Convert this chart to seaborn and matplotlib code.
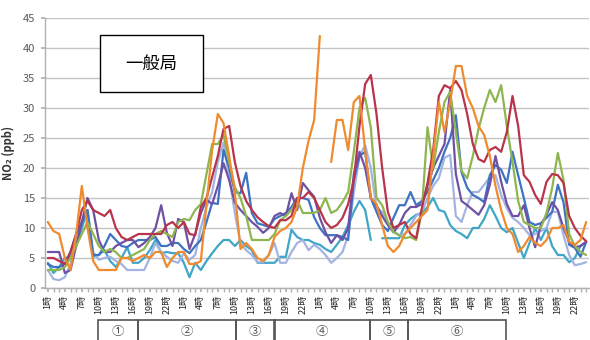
import numpy as np
import pandas as pd
import matplotlib
matplotlib.use("Agg")
import matplotlib.pyplot as plt
from matplotlib.patches import Rectangle
from matplotlib.ticker import MultipleLocator
import seaborn as sns

nan = np.nan

# hourly x-axis: 4 days x 24 h (1時..24時)
hours = [h for d in range(4) for h in range(1, 25)]
tick_labels = [f"{h}時" for d in range(4) for h in range(1, 25, 3)]

orange = [11, 9.5, 9, 5, 3, 9, 17, 10, 4.5, 3, 3, 3, 3, 5, 5, 4.5, 5, 5.5, 5, 6, 6, 3.5, 5, 6,
          6, 4, 4, 4.5, 14, 23, 29, 27.5, 22, 16, 6.5, 7.5, 6.5, 5, 4.5, 5.5, 8.5, 9.5, 10, 11, 13.5, 20, 24.5, 28,
          42, nan, 21, 28, 28, 23, 31, 32, 23, 15, 14, 10.5, 7, 6, 7, 9, 10, 11, 12, 13, 22, 31, 26, 31,
          37, 37, 32, 30, 27, 25.5, 22, 17, 13, 10, 9, 6, 7, 8.5, 7.5, 7, 8, 10, 10, 10.5, 7.7, 7.2, 8, 11]
red = [5, 5, 4.5, 4, 6, 9, 13, 14.5, 13, 12.5, 12, 13, 10, 8.5, 8, 8.5, 9, 9, 9, 9, 9, 10.5, 11, 10,
       11, 9, 8.8, 13.5, 15, 18.5, 22, 26.5, 27, 21, 17, 14.5, 13, 11.8, 11, 10.3, 10, 11.3, 11.3, 12, 15, 15, 16, 15,
       13, 11, 10, 10.5, 11.7, 14, 18, 27, 34, 35.5, 29, 20, 12.7, 10, 10.5, 11, 9, 8.3, 13.3, 17.5, 23, 32,
       33.8, 33.3, 34.5, 33, 29, 24, 21.5, 21, 23, 23.5, 22.7, 26, 32, 27, 18.8, 17.7, 15.5, 14, 17.7, 19, 18.8, 17.5,
       12, 10, 8.7, 7.8]
green = [3, 3, 3, 3.5, 5, 7, 9, 11, 9, 7, 6, 6.5, 6, 5, 5, 5.5, 6, 6.5, 8, 9, 9.5, 9, 8.5, 11,
         11.5, 11.3, 13, 14, 19, 24, 24, 25.5, 21, 16.8, 15, 12, 8, 8, 8, 8, 9, 11.3, 12, 13, 14.7, 12.5, 12.5, 12.5,
         13, 15, 12.5, 13, 14.3, 16, 22.7, 30, 31.7, 26.7, 15, 13.8, 11, 9.3, 8.8, 8.3, 8.5, 8, 12.7, 26.8, 20, 26,
         31, 32.7, 26, 19.5, 18.3, 22, 26.5, 30, 33, 31, 33.8, 27, 21, 14.5, 11, 10.5, 10, 10, 12.5, 16.7, 22.5, 18,
         9, 7, 6, 5.5]
purple = [6, 6, 6, 2.5, 3, 7, 11, 15, 13, 8, 6, 6, 7, 7.5, 8, 8, 6.8, 7.5, 8.5, 10, 13.8, 9.2, 7, 11.5,
          11, 6.5, 9, 12.5, 14.7, 14, 17, 20.8, 18, 14.2, 13, 12, 11, 10.2, 9.2, 10, 12, 12.5, 12, 15.8, 13, 17.5, 16.3, 15.2,
          11.7, 9.3, 7.5, 8.8, 8, 10, 19, 22.7, 20, 15, 13.8, 12, 10.5, 9.3, 10.5, 12.5, 13.5, 13.5, 14, 17, 20, 22,
          24, 33, 19, 14.5, 13.8, 13, 12.2, 13.8, 17.2, 22, 17.7, 14, 12, 12, 13.8, 10, 6.8, 10.5, 12.2, 14.3, 13, 10,
          7.7, 6.8, 7, 7.7]
blue = [4, 3.5, 3.5, 4, 6, 9, 11, 13, 5.5, 5.5, 7, 9, 8, 7, 6.8, 7.5, 8, 8, 8, 8.5, 7, 7, 7.5, 7.5,
        6.5, 5.8, 7, 8, 11, 14.2, 14, 23, 20, 16, 15.8, 19.2, 12.5, 10.8, 10.5, 10.2, 11.5, 12, 12.5, 13.5, 15, 15, 14.7, 11.8,
        10, 8.8, 8.8, 8.8, 8.5, 8, 18, 22, 22.7, 15, 12.7, 10.5, 9.5, 11.7, 13.8, 13.8, 16, 13.8, 14.5, 16, 18, 20,
        22.7, 25, 28.8, 19.3, 16.7, 15.5, 15, 14.3, 18.8, 20.5, 19.7, 17.5, 22.7, 18.8, 15, 11, 10.5, 10.8, 11.7, 12.7, 17.2, 14.3,
        7.2, 6.7, 5.2, 7.7]
lavender = [3, 1.5, 1.3, 1.8, 4, 8, 11, 13, 6, 4.7, 5, 5.2, 4.5, 4, 3, 3, 3, 3, 5, 7.5, 6, 5.2, 4.5, 4.2,
            5.8, 4.7, 5.5, 10, 13.5, 16, 21, 24.2, 18.5, 12.5, 7.5, 6.3, 5.5, 4.3, 4.3, 5.5, 7.5, 4.2, 4.2, 6, 7.5, 8, 6.3, 7.2,
            6.5, 5.5, 4.2, 5, 6, 8.8, 16, 22, 23.8, 20, 13.3, 12.7, 11, 9.5, 8.8, 9, 10.5, 12, 12.7, 15, 17, 18.3,
            21.7, 22.2, 12, 11, 13.8, 16, 16, 17.2, 18.5, 18.8, 15.5, 13.3, 11.7, 11, 10, 8.8, 9, 9.5, 10, 12.7, 12.7, 8.8,
            5.5, 3.8, 4, 4.3]
teal = [4.2, 2.5, 3.5, 5, 5.2, 7, 10, 13, 5.2, 5.5, 6.3, 4.5, 3.5, 5, 6.8, 4.2, 4.2, 5, 6.3, 8, 5.8, 6, 5.8, 5.8,
        4.2, 1.8, 4.2, 3, 4.5, 5.8, 7, 8, 8, 7, 8, 7, 6.3, 4.2, 4.2, 4.2, 4.2, 5.2, 5.2, 9.7, 8.5, 8, 8, 7.5,
        7.2, 6.5, 6, 7.2, 8.5, 10.5, 12.7, 14.5, 13, 8, nan, 8.3, 8.3, 8.3, 8.3, 10.5, 11.5, 12.2, 12.5, 13.5, 15, 13,
        12.7, 10.5, 9.5, 9, 8.3, 10, 10, 11.5, 13.8, 12, 10, 9.3, 10, 7.5, 5, 7.5, 10, 8, 10, 7, 5.5, 5.5,
        4.3, 5, 7, 7.7]

series = {
    "teal": teal, "lavender": lavender, "blue": blue, "purple": purple,
    "green": green, "red": red, "orange": orange,
}
palette = {
    "teal": "#3FA6C8", "lavender": "#A3B4E2", "blue": "#3E72C2", "purple": "#6E51A3",
    "green": "#8DB650", "red": "#B8344A", "orange": "#F08A2E",
}

groups = ["①", "②", "③", "④", "⑤", "⑥"]
group_edges = [8.9, 15.9, 33.2, 40.0, 56.8, 63.6, 80.8]

rows = []
for name, vals in series.items():
    seg = 0
    for i, v in enumerate(vals):
        if np.isnan(v):
            seg += 1
            continue
        rows.append({"idx": i, "val": v, "station": name, "unit": f"{name}_{seg}"})
df = pd.DataFrame(rows)

sns.set_theme(style="white")
plt.rcParams["font.family"] = ["Noto Sans CJK JP", "DejaVu Sans"]

fig = plt.figure(figsize=(5.9, 3.4), dpi=100)
ax = fig.add_axes([45 / 590, 1 - 288 / 340, 544 / 590, 270 / 340])

sns.lineplot(data=df, x="idx", y="val", hue="station", units="unit", estimator=None,
             palette=palette, hue_order=list(series.keys()), legend=False,
             linewidth=1.6, ax=ax, sort=True)

ax.set_xlim(-0.5, 95.5)
ax.set_ylim(0, 45)
ax.yaxis.set_major_locator(MultipleLocator(5))
ax.grid(axis="y", color="#C4C4C4", linewidth=1.0)
ax.set_axisbelow(True)
for s in ["top", "right"]:
    ax.spines[s].set_visible(False)
for s in ["left", "bottom"]:
    ax.spines[s].set_color("#B0B0B0")
    ax.spines[s].set_linewidth(1.0)

ax.set_xticks(np.arange(0, 96, 3))
ax.set_xticklabels(tick_labels, rotation=90, fontsize=6.5, color="#222222")
ax.set_xticks(np.arange(0, 96, 1), minor=True)
ax.tick_params(axis="x", which="both", direction="out", length=3, color="#B0B0B0", pad=2, bottom=True)
ax.tick_params(axis="y", which="major", direction="out", length=3, color="#B0B0B0",
               labelsize=8, labelcolor="#595959", pad=4, left=True)
ax.set_xlabel("")
ax.set_ylabel("NO₂ (ppb)", fontsize=8, fontweight="bold", color="#333333")
ax.yaxis.set_label_coords(-30 / 544, 0.5)

# group boxes below the axis
tr = ax.get_xaxis_transform()
top_y = -32 / 270
bot_y = -80 / 270
for k, lab in enumerate(groups):
    x0, x1 = group_edges[k], group_edges[k + 1]
    ax.add_patch(Rectangle((x0, bot_y), x1 - x0, top_y - bot_y, transform=tr,
                           fill=False, edgecolor="#555555", linewidth=1.2, clip_on=False))
    ax.text((x0 + x1) / 2, -44 / 270, lab, transform=tr, ha="center", va="center",
            fontsize=9, color="#555555")

# label box
fig.patches.append(Rectangle((100 / 590, 1 - 92 / 340), 103 / 590, 57 / 340,
                             transform=fig.transFigure, fill=True, facecolor="white",
                             edgecolor="black", linewidth=1.0, zorder=5))
fig.text(151.5 / 590, 1 - 64 / 340, "一般局", ha="center", va="center", fontsize=12.5,
         color="black", zorder=6)

fig.savefig("out.png", dpi=100)
